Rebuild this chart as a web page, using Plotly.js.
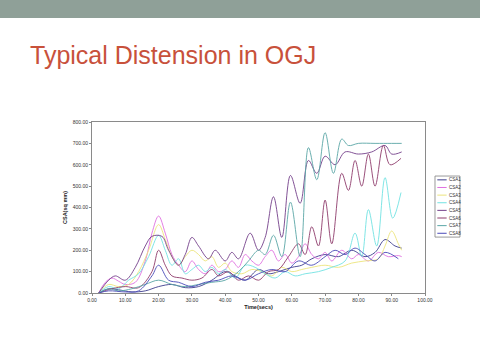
<!DOCTYPE html>
<html>
<head>
<meta charset="utf-8">
<script src="https://cdn.plot.ly/plotly-3.0.1.min.js"></script>
<style>html,body{margin:0;padding:0;background:#fff;}#chart{width:480px;height:360px;}</style>
</head>
<body>
<div id="chart"></div>
<script>
// ---- data ----
const seriesNames = ["CSA1","CSA2","CSA3","CSA4","CSA5","CSA6","CSA7","CSA8"];
const seriesColors = ["#3c3c8c","#e070e0","#ece47c","#72e2e2","#74408a","#8e3c6c","#5aa6a6","#4a4ab8"];

const t1 = [2,5,8,12,16,20,24,28,32,36,40,43,46,50,53,56,60,63,66,70,74,78,82,85,88,91,93];
const v1 = [0,20,15,5,10,30,40,25,30,60,100,80,60,110,90,100,120,130,160,180,170,200,170,190,250,220,210];

const t2 = [2,4,6,8,10,13,16,18,20,22,24,26,28,30,32,34,36,38,40,42,44,46,48,50,52,54,56,58,60,62,64,66,68,70,72,75,78,80,83,86,89,92,93];
const v2 = [0,50,70,55,40,50,150,280,360,280,180,130,100,150,110,90,130,100,110,150,120,180,150,130,170,200,150,180,140,170,230,180,160,190,150,200,160,180,150,190,170,175,170];

const t3 = [2,5,8,11,14,17,20,22,24,26,28,30,32,34,36,38,40,42,45,48,51,54,57,60,63,66,70,74,78,82,86,88,90,92,93];
const v3 = [0,40,30,40,100,200,320,250,170,130,170,200,180,150,170,120,140,100,90,110,100,80,120,100,110,120,130,120,140,150,160,220,290,230,200];

const t4 = [2,5,8,11,14,17,20,22,24,26,28,30,32,34,36,38,40,43,46,49,52,55,58,61,64,68,72,76,79,81,83,85.5,88,90.3,92.8];
const v4 = [0,30,20,60,90,170,270,200,130,160,90,110,130,100,120,90,110,70,130,120,90,70,100,80,90,100,120,150,280,170,390,220,540,350,470];

const t5 = [2,5,7,10,13,16,18,21,23,26,28,30,32,35,37,40,42,44,47.5,50,52,54.5,57,59.6,62.5,65,67.5,70,73,76,80,84,88,90,93];
const v5 = [0,60,80,60,120,220,265,265,200,130,180,260,220,160,200,150,190,160,280,200,260,450,260,550,420,620,560,640,600,660,650,660,690,650,660];

const t6 = [2,6,10,14,18,20,22,24,27,30,33,36,38,41,44,47,50,53,56,59,62,64,66,68,70,72,75,77,79,81,83,85,87.5,89.5,92.8];
const v6 = [0,20,30,25,100,200,130,80,70,60,70,110,80,100,60,80,60,100,110,170,230,180,310,220,435,230,560,480,620,500,650,500,690,600,630];

const t7 = [2,5,8,12,16,20,24,28,32,36,40,44,47,50,52,54.5,57,59.6,62.5,65,67.5,70,72.5,75,77,80,85,90,93];
const v7 = [0,20,10,20,40,60,40,30,40,50,60,100,150,200,180,270,170,425,170,680,530,750,560,720,690,700,700,700,700];

const t8 = [2,5,10,14,18,20,23,26,30,34,38,42,46,50,54,58,62,66,70,73,76,79,82,85,88,92];
const v8 = [0,10,5,10,80,130,60,50,30,50,60,80,60,90,110,100,150,130,170,200,180,210,180,150,190,160];

const seriesT = [t1,t2,t3,t4,t5,t6,t7,t8];
const seriesV = [v1,v2,v3,v4,v5,v6,v7,v8];

const xTitle = "Time(secs)";
const yTitle = "CSA(sq mm)";
const chartTitle = "Typical Distension in OGJ";

// ---- traces ----
const traces = seriesNames.map((n, i) => ({
  type: "scatter", mode: "lines", name: n,
  x: seriesT[i], y: seriesV[i],
  line: {color: seriesColors[i], width: 0.9, shape: "spline", smoothing: 1},
  showlegend: false, hoverinfo: "skip"
}));

// ---- custom compact legend (built from names/colors) ----
const legX0 = 1.030, legX1 = 1.105, legYTop = 0.684, legYBot = 0.327;
const shapes = [
  {type: "rect", xref: "paper", yref: "paper", x0: -1, x1: 2, y0: 1.608, y1: 3,
   fillcolor: "#8fa098", line: {width: 0}, layer: "below"},
  {type: "rect", xref: "paper", yref: "paper", x0: legX0, x1: legX1, y0: legYBot, y1: legYTop,
   fillcolor: "#ffffff", line: {color: "#808080", width: 0.8}}
];
const annotations = [];
const rowStep = (legYTop - legYBot) / seriesNames.length;
seriesNames.forEach((n, i) => {
  const yy = legYTop - rowStep * (i + 0.5);
  shapes.push({type: "line", xref: "paper", yref: "paper", x0: 1.037, x1: 1.065, y0: yy, y1: yy,
               line: {color: seriesColors[i], width: 1}});
  annotations.push({xref: "paper", yref: "paper", x: 1.067, y: yy, xanchor: "left", yanchor: "middle",
                    text: n, showarrow: false, font: {family: "Liberation Sans, Arial", size: 4.5, color: "#333"}});
});

const layout = {
  width: 480, height: 360,
  margin: {l: 92, r: 55, t: 122, b: 67, pad: 0},
  paper_bgcolor: "#ffffff", plot_bgcolor: "#ffffff",
  title: {text: chartTitle, x: 0.0625, xanchor: "left", xref: "container",
          y: 0.846, yanchor: "middle", yref: "container",
          font: {family: "Liberation Sans, Arial", size: 25, color: "#c8513b"}},
  xaxis: {range: [0, 100], dtick: 10, tick0: 0, tickformat: ".2f",
          showgrid: false, zeroline: false, showline: true, mirror: true, linecolor: "#8a8a8a", linewidth: 1,
          ticks: "outside", ticklen: 2, tickcolor: "#8a8a8a",
          tickfont: {family: "Liberation Sans, Arial", size: 5, color: "#333"},
          title: {text: xTitle, standoff: 3, font: {family: "Liberation Sans, Arial", size: 5.5, color: "#222", weight: "bold"}}},
  yaxis: {range: [0, 800], dtick: 100, tick0: 0, tickformat: ".2f",
          showgrid: false, zeroline: false, showline: true, mirror: true, linecolor: "#8a8a8a", linewidth: 1,
          ticks: "outside", ticklen: 2, tickcolor: "#8a8a8a",
          tickfont: {family: "Liberation Sans, Arial", size: 5, color: "#333"},
          title: {text: yTitle, standoff: 4, font: {family: "Liberation Sans, Arial", size: 5.5, color: "#222", weight: "bold"}}},
  shapes: shapes,
  annotations: annotations,
  showlegend: false
};

Plotly.newPlot("chart", traces, layout, {staticPlot: true, displayModeBar: false});
</script>
</body>
</html>
